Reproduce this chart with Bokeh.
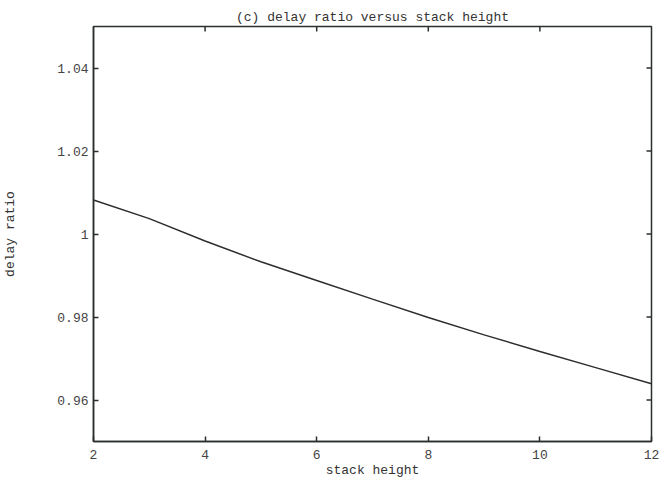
import math
from bokeh.plotting import figure
from bokeh.models import LinearAxis, FixedTicker, Range1d
from bokeh.embed import file_html
from bokeh.resources import INLINE

stack_height = [2, 3, 4, 5, 6, 7, 8, 9, 10, 11, 12]
delay_ratio = [1.0082, 1.0037, 0.9983, 0.9933, 0.9888, 0.9843, 0.9799, 0.9757, 0.9717, 0.9678, 0.9639]
x_ticks = [2, 4, 6, 8, 10, 12]
y_ticks = [0.96, 0.98, 1.0, 1.02, 1.04]
y_tick_labels = {0.96: "0.96", 0.98: "0.98", 1.0: "1", 1.02: "1.02", 1.04: "1.04"}
x_min, x_max = 2, 12
y_min, y_max = 0.95, 1.05

FONT = "Liberation Mono"
INK = "#2b2f2c"

p = figure(width=659, height=480, output_backend="svg", toolbar_location=None,
           x_range=Range1d(x_min, x_max), y_range=Range1d(y_min, y_max),
           x_axis_location=None, y_axis_location=None,
           min_border_left=93, min_border_right=8, min_border_top=26, min_border_bottom=39)
p.background_fill_color = "white"
p.border_fill_color = "white"
p.grid.visible = False
p.outline_line_color = INK
p.outline_line_width = 1.5

p.title.text = "(c) delay ratio versus stack height"
p.title.align = "center"
p.title.text_font = FONT
p.title.text_font_size = "13px"
p.title.text_font_style = "normal"
p.title.text_color = "#333333"
p.title.offset = 0
p.title.standoff = 4


def style(ax):
    ax.major_tick_in = 5
    ax.major_tick_out = 0
    ax.minor_tick_line_color = None
    ax.major_tick_line_color = INK
    ax.major_tick_line_width = 1.5
    ax.axis_line_color = INK
    ax.axis_line_width = 1.5
    ax.major_label_text_font = FONT
    ax.major_label_text_color = "#444444"
    ax.major_label_text_font_size = "13px"
    ax.axis_label_text_font = FONT
    ax.axis_label_text_font_style = "normal"
    ax.axis_label_text_color = "#333333"
    ax.axis_label_text_font_size = "13px"


xb = LinearAxis(ticker=FixedTicker(ticks=x_ticks), axis_label="stack height")
style(xb)
xb.major_label_standoff = 8
xb.axis_label_standoff = 1
p.add_layout(xb, "below")

yl = LinearAxis(ticker=FixedTicker(ticks=y_ticks), axis_label="delay ratio",
                major_label_overrides=y_tick_labels)
style(yl)
yl.major_label_standoff = 5
yl.axis_label_standoff = 36
p.add_layout(yl, "left")

# mirrored inward ticks on the top and right frame edges
p.ray(x=x_ticks[1:-1], y=[y_max] * (len(x_ticks) - 2), length=5, length_units="screen",
      angle=-math.pi / 2, line_color=INK, line_width=1.5)
p.ray(x=[x_max] * len(y_ticks), y=y_ticks, length=5, length_units="screen",
      angle=math.pi, line_color=INK, line_width=1.5)

p.line(stack_height, delay_ratio, line_color=INK, line_width=1.5)

open("out.html", "w").write(file_html(p, INLINE))
